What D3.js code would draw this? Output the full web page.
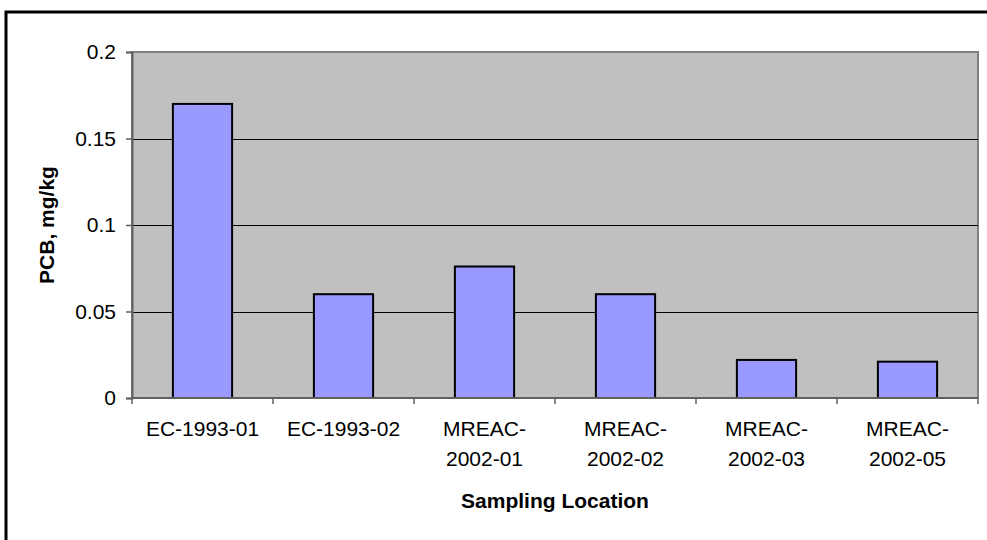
<!DOCTYPE html>
<html>
<head>
<meta charset="utf-8">
<script src="https://cdn.jsdelivr.net/npm/d3@7"></script>
<style>
  html, body { margin: 0; padding: 0; background: #fff; }
  svg { display: block; }
  text { font-family: "Liberation Sans", Arial, sans-serif; fill: #000; }
</style>
</head>
<body>
<svg id="chart" width="987" height="540"></svg>
<script>
// Sampling locations (label lines) and PCB concentrations, mg/kg
const locations = ["EC-1993-01", "EC-1993-02", "MREAC-2002-01", "MREAC-2002-02", "MREAC-2002-03", "MREAC-2002-05"];
const locationLines = [["EC-1993-01"], ["EC-1993-02"], ["MREAC-", "2002-01"], ["MREAC-", "2002-02"], ["MREAC-", "2002-03"], ["MREAC-", "2002-05"]];
const pcbValues = [0.17, 0.06, 0.076, 0.06, 0.022, 0.021];
const yTicks = [0, 0.05, 0.1, 0.15, 0.2];
const yTickLabels = ["0", "0.05", "0.1", "0.15", "0.2"];

const svg = d3.select("#chart");
const plot = { left: 132, top: 52, right: 978, bottom: 398 };

// outer frame
svg.append("rect")
  .attr("x", 6).attr("y", 12)
  .attr("width", 1000).attr("height", 560)
  .attr("fill", "#fff").attr("stroke", "#000").attr("stroke-width", 3);

const x = d3.scaleBand().domain(locations).range([plot.left, plot.right]).paddingInner(0.58).paddingOuter(0.29);
const xTicks = d3.scaleBand().domain(locations).range([plot.left, plot.right]);
const y = d3.scaleLinear().domain([0, 0.2]).range([plot.bottom, plot.top]);

// plot area background
svg.append("rect")
  .attr("x", plot.left).attr("y", plot.top)
  .attr("width", plot.right - plot.left).attr("height", plot.bottom - plot.top)
  .attr("fill", "#C0C0C0").attr("stroke", "#808080").attr("stroke-width", 2);

// horizontal gridlines
svg.append("g").selectAll("line")
  .data(yTicks.filter(d => d > 0 && d < 0.2))
  .join("line")
  .attr("x1", plot.left).attr("x2", plot.right)
  .attr("y1", d => Math.round(y(d)) + 0.5).attr("y2", d => Math.round(y(d)) + 0.5)
  .attr("stroke", "#000").attr("stroke-width", 1);

// bars
svg.append("g").selectAll("rect")
  .data(pcbValues)
  .join("rect")
  .attr("x", (d, i) => x(locations[i]))
  .attr("y", d => y(d))
  .attr("width", x.bandwidth())
  .attr("height", d => y(0) - y(d))
  .attr("fill", "#9999FF").attr("stroke", "#000").attr("stroke-width", 2);

// y axis
const yAxis = d3.axisLeft(y).tickValues(yTicks)
  .tickFormat((d, i) => yTickLabels[i]).tickSize(6).tickPadding(10);
const gy = svg.append("g").attr("transform", `translate(${plot.left},0)`).call(yAxis);
gy.select(".domain").attr("stroke", "#606060").attr("stroke-width", 2);
gy.selectAll(".tick line").attr("stroke", "#606060").attr("stroke-width", 1.5);
gy.selectAll(".tick text")
  .style("font-family", "'Liberation Sans', Arial, sans-serif")
  .style("font-size", "21px").attr("fill", "#000");

// x axis: ticks at category boundaries
const boundaries = locations.map(d => xTicks(d)).concat([plot.right]);
const gx = svg.append("g");
gx.append("line")
  .attr("x1", plot.left).attr("x2", plot.right)
  .attr("y1", plot.bottom).attr("y2", plot.bottom)
  .attr("stroke", "#606060").attr("stroke-width", 2);
gx.selectAll("line.tick")
  .data(boundaries)
  .join("line").attr("class", "tick")
  .attr("x1", d => d).attr("x2", d => d)
  .attr("y1", plot.bottom).attr("y2", plot.bottom + 6)
  .attr("stroke", "#606060").attr("stroke-width", 1.5);

// category labels
const labels = gx.selectAll("text.cat")
  .data(locationLines)
  .join("text").attr("class", "cat")
  .attr("text-anchor", "middle")
  .style("font-size", "21px");
labels.each(function(lines, i) {
  const cx = xTicks(locations[i]) + xTicks.bandwidth() / 2;
  d3.select(this).selectAll("tspan")
    .data(lines)
    .join("tspan")
    .attr("x", cx)
    .attr("y", (d, j) => 436 + j * 30)
    .text(d => d);
});

// axis titles
svg.append("text")
  .attr("x", (plot.left + plot.right) / 2).attr("y", 508)
  .attr("text-anchor", "middle")
  .style("font-size", "21px").style("font-weight", "bold")
  .text("Sampling Location");

svg.append("text")
  .attr("transform", `translate(54,${(plot.top + plot.bottom) / 2}) rotate(-90)`)
  .attr("text-anchor", "middle")
  .style("font-size", "21px").style("font-weight", "bold")
  .text("PCB, mg/kg");
</script>
</body>
</html>
